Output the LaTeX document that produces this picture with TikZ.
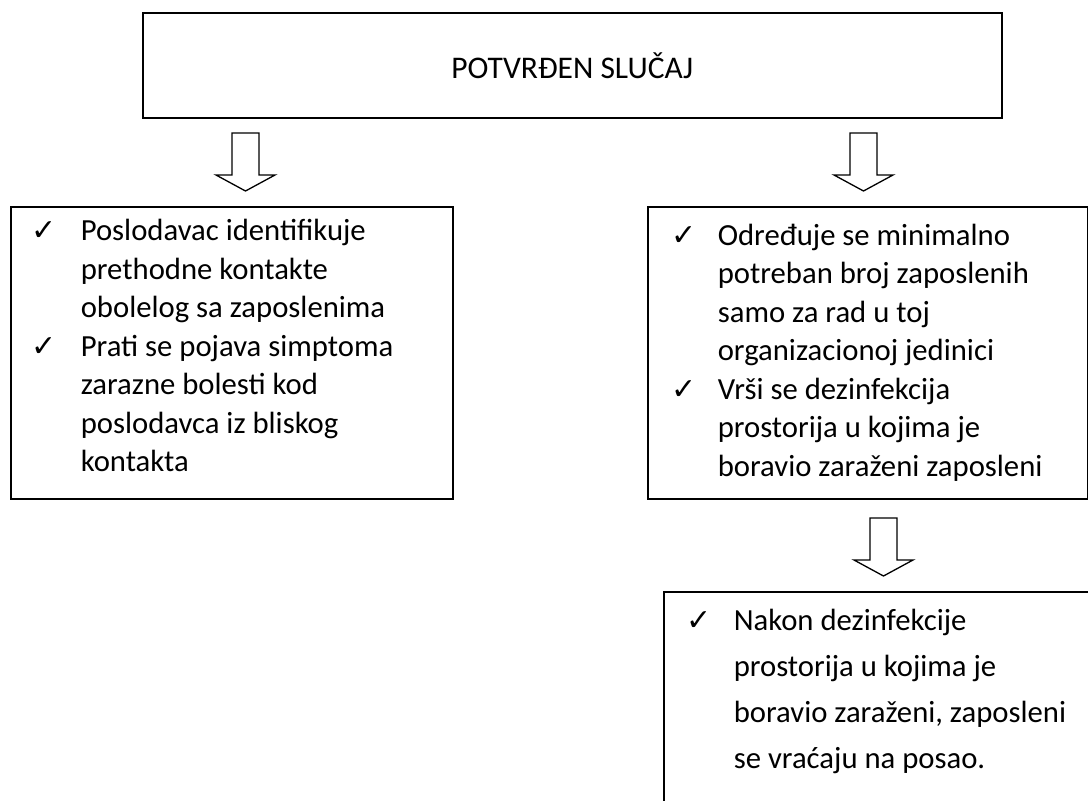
\documentclass[tikz,border=0pt]{standalone}
\usepackage{fontspec}
\setmainfont{Carlito}
\newfontfamily\symfont{DejaVu Sans}
\usetikzlibrary{positioning}
\newcommand{\chk}{{\symfont\fontsize{30}{30}\selectfont ✓}}

\begin{document}
\begin{tikzpicture}[x=1pt,y=1pt]
        \tikzstyle{every node}+=[inner sep=0pt]
        \tikzstyle{box}=[draw=black, line width=1.6pt, rectangle, anchor=north west, font=\fontsize{30.7}{38.5}\selectfont]
        \tikzstyle{arrline}=[draw=black, line width=1.3pt, fill=white, line join=miter]
        \tikzset{blockdown/.pic={\draw [arrline] (-13.5,0) -- (13.5,0) -- (13.5,-42) -- (29.5,-42) -- (0,-58) -- (-29.5,-42) -- (-13.5,-42) -- cycle;}}
        \useasboundingbox (0,0) rectangle (1088,-801);
        \clip (0,0) rectangle (1088,-801);
        \node [box, minimum width=859, minimum height=105, font=\fontsize{31.5}{38.5}\selectfont] (confirmed) at (142,-12) {POTVRĐEN SLUČAJ};
        \node [box, minimum width=442, minimum height=292] (contacts) at (10,-206) {\begin{tabular}{@{}p{70pt}@{}p{372pt}@{}}
            \hspace{21pt}\chk & Poslodavac identifikuje\\
            & prethodne kontakte\\
            & obolelog sa zaposlenima\\
            \hspace{21pt}\chk & Prati se pojava simptoma\\
            & zarazne bolesti kod\\
            & poslodavca iz bliskog\\
            & kontakta\\[9pt]
        \end{tabular}};
        \node [box, minimum width=440, minimum height=292] (disinfect) at (647,-206) {\begin{tabular}{@{}p{70pt}@{}p{370pt}@{}}
            \hspace{24pt}\chk & Određuje se minimalno\\
            & potreban broj zaposlenih\\
            & samo za rad u toj\\
            & organizacionoj jedinici\\
            \hspace{24pt}\chk & Vrši se dezinfekcija\\
            & prostorija u kojima je\\
            & boravio zaraženi zaposleni
        \end{tabular}};
        \node [box, inner ysep=6pt, minimum width=460, font=\fontsize{30.7}{46}\selectfont] (return) at (663,-591) {\begin{tabular}{@{}p{70pt}@{}p{390pt}@{}}
            \hspace{23pt}\chk & Nakon dezinfekcije\\
            & prostorija u kojima je\\
            & boravio zaraženi, zaposleni\\
            & se vraćaju na posao.\\[40pt]
        \end{tabular}};
        \pic at (245.5,-133) {blockdown};
        \pic at (863.5,-133) {blockdown};
        \pic at (883.5,-518) {blockdown};
    \end{tikzpicture}
\end{document}
